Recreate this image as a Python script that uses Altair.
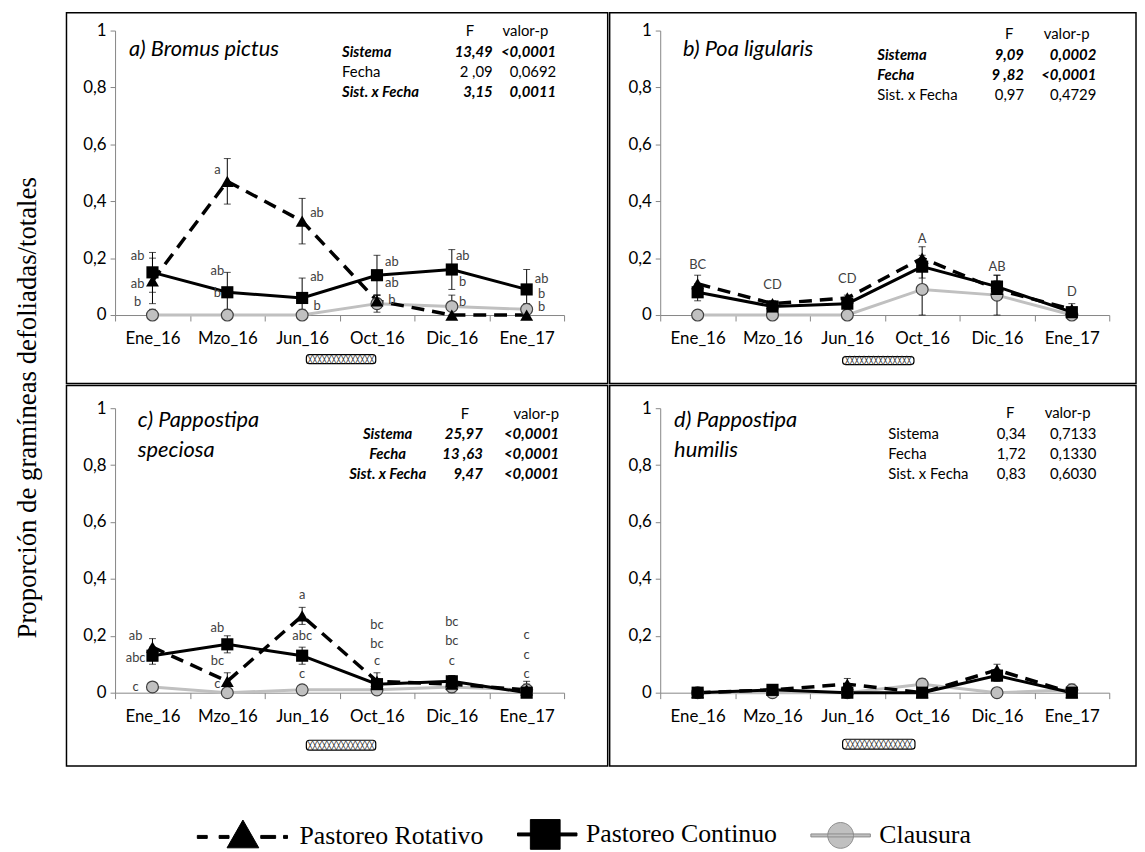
import altair as alt
import pandas as pd

CATS = ["Ene_16", "Mzo_16", "Jun_16", "Oct_16", "Dic_16", "Ene_17"]
SERIES = ["Pastoreo Rotativo", "Pastoreo Continuo", "Clausura"]
Y_TITLE = "Proporción de gramíneas defoliadas/totales"
STAT_ROWS = ["Sistema", "Fecha", "Sist. x Fecha"]

# ---- panel a) Bromus pictus
A_TITLE = ["a) Bromus pictus"]
A_ROT = [0.12, 0.47, 0.33, 0.05, 0.00, 0.00]
A_ROT_ERR = [0.08, 0.08, 0.08, 0.02, 0.00, 0.00]
A_CONT = [0.15, 0.08, 0.06, 0.14, 0.16, 0.09]
A_CONT_ERR = [0.07, 0.07, 0.07, 0.07, 0.07, 0.07]
A_CLAU = [0.00, 0.00, 0.00, 0.04, 0.03, 0.02]
A_CLAU_ERR = [0.02, 0.02, 0.02, 0.03, 0.04, 0.02]
A_F = ["13,49", "2 ,09", "3,15"]
A_P = ["<0,0001", "0,0692", "0,0011"]
A_BOLD = [True, False, True]
A_LET_FECHA = ["Ene_16"] * 3 + ["Mzo_16"] * 3 + ["Jun_16"] * 3 + ["Oct_16"] * 3 + ["Dic_16"] * 3 + ["Ene_17"] * 3
A_LET_Y = [0.207, 0.108, 0.044, 0.508, 0.155, 0.079, 0.36, 0.135, 0.03,
           0.186, 0.114, 0.051, 0.207, 0.117, 0.044, 0.126, 0.075, 0.027]
A_LET_TXT = ["ab", "ab", "b", "a", "ab", "b", "ab", "ab", "b",
             "ab", "ab", "b", "ab", "b", "b", "ab", "b", "b"]
A_LET_SIDE = ["l"] * 3 + ["m"] * 3 + ["r"] * 3 + ["r"] * 3 + ["r2"] * 3 + ["r"] * 3

# ---- panel b) Poa ligularis
B_TITLE = ["b) Poa ligularis"]
B_ROT = [0.11, 0.04, 0.06, 0.20, 0.09, 0.02]
B_ROT_ERR = [0.03, 0.01, 0.01, 0.04, 0.03, 0.02]
B_CONT = [0.08, 0.03, 0.04, 0.17, 0.10, 0.01]
B_CONT_ERR = [0.03, 0.01, 0.02, 0.04, 0.04, 0.01]
B_CLAU = [0.00, 0.00, 0.00, 0.09, 0.07, 0.00]
B_CLAU_ERR = [0.00, 0.00, 0.00, 0.09, 0.07, 0.00]
B_F = ["9,09", "9 ,82", "0,97"]
B_P = ["0,0002", "<0,0001", "0,4729"]
B_BOLD = [True, True, False]
B_LET_FECHA = CATS
B_LET_Y = [0.176, 0.106, 0.126, 0.266, 0.168, 0.08]
B_LET_TXT = ["BC", "CD", "CD", "A", "AB", "D"]
B_LET_SIDE = ["c"] * 6

# ---- panel c) Pappostipa speciosa
C_TITLE = ["c) Pappostipa", "speciosa"]
C_ROT = [0.16, 0.04, 0.27, 0.04, 0.03, 0.01]
C_ROT_ERR = [0.03, 0.03, 0.03, 0.03, 0.03, 0.02]
C_CONT = [0.13, 0.17, 0.13, 0.03, 0.04, 0.00]
C_CONT_ERR = [0.03, 0.03, 0.03, 0.02, 0.02, 0.01]
C_CLAU = [0.02, 0.00, 0.01, 0.01, 0.02, 0.01]
C_CLAU_ERR = [0.01, 0.00, 0.01, 0.01, 0.01, 0.03]
C_F = ["25,97", "13 ,63", "9,47"]
C_P = ["<0,0001", "<0,0001", "<0,0001"]
C_BOLD = [True, True, True]
C_LET_FECHA = A_LET_FECHA
C_LET_Y = [0.20, 0.121, 0.021, 0.229, 0.111, 0.029, 0.344, 0.198, 0.064,
           0.237, 0.171, 0.11, 0.249, 0.183, 0.11, 0.203, 0.133, 0.067]
C_LET_TXT = ["ab", "abc", "c", "ab", "bc", "c", "a", "abc", "c",
             "bc", "bc", "c", "bc", "bc", "c", "c", "c", "c"]
C_LET_SIDE = ["l2"] * 3 + ["m"] * 3 + ["c"] * 12

# ---- panel d) Pappostipa humilis
D_TITLE = ["d) Pappostipa", "humilis"]
D_ROT = [0.00, 0.01, 0.03, 0.00, 0.08, 0.00]
D_ROT_ERR = [0.01, 0.01, 0.02, 0.00, 0.02, 0.01]
D_CONT = [0.00, 0.01, 0.00, 0.00, 0.06, 0.00]
D_CONT_ERR = [0.01, 0.01, 0.00, 0.00, 0.02, 0.00]
D_CLAU = [0.00, 0.00, 0.00, 0.03, 0.00, 0.01]
D_CLAU_ERR = [0.01, 0.01, 0.00, 0.02, 0.00, 0.02]
D_F = ["0,34", "1,72", "0,83"]
D_P = ["0,7133", "0,1330", "0,6030"]
D_BOLD = [False, False, False]

# ---------------- styles / layout (not data) ----------------
PW, PH = 453, 287
SIDE_DX = {"l": -15, "l2": -17, "m": -10, "r": 15, "r2": 11, "c": 0}
GEOM = {
    "a": dict(frame=(-49, 497, -18, 356), title=(14, 26), lab=229, lab_align="left",
              fx=381, px=445, hf=358, hp=414, hy=1, ry=22, box=(193, 263, 327, 336)),
    "b": dict(frame=(-51, 480, -18, 356), title=(23, 26), lab=219, lab_align="left",
              fx=367, px=440, hf=352, hp=410, hy=4, ry=25, box=(184, 256, 329, 337)),
    "c": dict(frame=(-49, 497, -23, 361), title=(23, 19), lab=275, lab_align="center",
              fx=371, px=448, hf=353, hp=425, hy=6, ry=26, box=(193, 263, 335, 345)),
    "d": dict(frame=(-51, 480, -23, 361), title=(14, 19), lab=230, lab_align="left",
              fx=369, px=440, hf=353, hp=411, hy=5, ry=26, box=(184, 257, 334, 344)),
}
LEG_PATHS = [
    "M-9.2,-0.1H-7.2V0.5H-9.2Z M-4.8,-0.1H-2.8V0.5H-4.8Z M0,-3.2L3.2,2.4H-3.2Z "
    "M3.6,-0.1H6.6V0.5H3.6Z M8.2,-0.1H9V0.5H8.2Z",
    "M-2.4,-0.3H9.6V0.3H-2.4Z M0.2,-3H6.2V3H0.2Z",
    "M-2.4,-0.3H9.6V0.3H-2.4Z M6.2,0A2.6,2.6 0 1,1 1,0A2.6,2.6 0 1,1 6.2,0Z",
]

ONE = alt.Data(values=[{"k": 1}])
XS = alt.Scale(type="band", domain=CATS, paddingInner=0, paddingOuter=0)
YS = alt.Scale(domain=[0, 1], nice=False)
X_AX = alt.Axis(title=None, labelAngle=0, tickBand="extent", grid=False,
                domainColor="#868686", tickColor="#868686", tickSize=6,
                labelFont="Lato", labelFontSize=17, labelColor="black", labelPadding=10)
Y_AX = alt.Axis(title=None, values=[0, 0.2, 0.4, 0.6, 0.8, 1], grid=False,
                labelExpr="replace(format(datum.value, '~g'), '.', ',')",
                domainColor="#868686", tickColor="#868686", tickSize=5,
                labelFont="Lato", labelFontSize=17, labelColor="black", labelPadding=4)
X = alt.X("fecha:N", scale=XS, axis=X_AX, sort=CATS)


def Y(field):
    return alt.Y(field, scale=YS, axis=Y_AX)


def txt(text, x, y, align="left", size=15, bold=False, italic=False, font="Lato",
        baseline="middle", color="black", line_height=None):
    kw = dict(text=text, align=align, baseline=baseline, font=font, fontSize=size, color=color)
    if bold:
        kw["fontWeight"] = "bold"
    if italic:
        kw["fontStyle"] = "italic"
    if line_height:
        kw["lineHeight"] = line_height
    return alt.Chart(ONE).mark_text(**kw).encode(x=alt.value(x), y=alt.value(y))


def panel(key, vals, errs, let, f_vals, p_vals, bold, title, legend=False):
    g = GEOM[key]
    rows = []
    for s, v, e in zip(SERIES, vals, errs):
        for i, c in enumerate(CATS):
            rows.append(dict(fecha=c, idx=i, serie=s, val=v[i], err=e[i],
                             lo=max(v[i] - e[i], 0.0), hi=v[i] + e[i]))
    df = pd.DataFrame(rows)
    layers = []
    x0, x1, y0, y1 = g["frame"]
    layers.append(alt.Chart(ONE).mark_rect(filled=False, stroke="black", strokeWidth=1.5).encode(
        x=alt.value(x0), x2=alt.value(x1), y=alt.value(y0), y2=alt.value(y1)))
    bx0, bx1, by0, by1 = g["box"]
    layers.append(alt.Chart(ONE).mark_rect(fill="white", stroke="black", strokeWidth=1.2,
                                           cornerRadius=3).encode(
        x=alt.value(bx0), x2=alt.value(bx1), y=alt.value(by0), y2=alt.value(by1)))
    layers.append(txt("╳" * 14, (bx0 + bx1) / 2, (by0 + by1) / 2 + 0.5, align="center",
                      size=8, font="DejaVu Sans Mono", color="#222"))

    eb = alt.Chart(df).transform_filter("datum.err > 0")
    layers.append(eb.mark_rule(color="black", strokeWidth=1).encode(x=X, y=Y("lo:Q"), y2="hi:Q"))
    layers.append(eb.mark_tick(color="black", thickness=1, size=7).encode(x=X, y=Y("hi:Q")))
    layers.append(eb.mark_tick(color="black", thickness=1, size=7).encode(x=X, y=Y("lo:Q")))

    line_styles = {
        "Clausura": dict(color="#c0c0c0", strokeWidth=3),
        "Pastoreo Continuo": dict(color="black", strokeWidth=3),
        "Pastoreo Rotativo": dict(color="black", strokeWidth=3.5, strokeDash=[13, 8]),
    }
    for s in ["Clausura", "Pastoreo Continuo", "Pastoreo Rotativo"]:
        layers.append(alt.Chart(df).transform_filter(alt.datum.serie == s)
                      .mark_line(**line_styles[s])
                      .encode(x=X, y=Y("val:Q"), order="idx:Q"))
    point_styles = {
        "Clausura": dict(shape="circle", filled=True, fill="#c0c0c0", stroke="#404040",
                         strokeWidth=1.2, size=144, opacity=1),
        "Pastoreo Continuo": dict(shape="square", filled=True, color="black", size=150, opacity=1),
        "Pastoreo Rotativo": dict(shape="triangle-up", filled=True, color="black", size=170, opacity=1),
    }
    for s in ["Clausura", "Pastoreo Continuo", "Pastoreo Rotativo"]:
        layers.append(alt.Chart(df).transform_filter(alt.datum.serie == s)
                      .mark_point(**point_styles[s])
                      .encode(x=X, y=Y("val:Q")))

    lf, ly, lt, ls = let
    ldf = pd.DataFrame(dict(fecha=lf, ly=ly, txt=lt, side=ls))
    for side, dx in SIDE_DX.items():
        if side in ls:
            layers.append(alt.Chart(ldf).transform_filter(alt.datum.side == side)
                          .mark_text(font="Lato", fontSize=13, color="#404040", dx=dx, baseline="middle")
                          .encode(x=X, y=Y("ly:Q"), text="txt:N"))

    # stats table
    layers.append(txt("F", g["hf"], g["hy"], align="center"))
    layers.append(txt("valor-p", g["hp"], g["hy"], align="center"))
    for i, (r, fv, pv, b) in enumerate(zip(STAT_ROWS, f_vals, p_vals, bold)):
        yy = g["ry"] + 20 * i
        layers.append(txt(r, g["lab"], yy, align=g["lab_align"], bold=b, italic=b))
        layers.append(txt(fv, g["fx"], yy, align="right", bold=b, italic=b))
        layers.append(txt(pv, g["px"], yy, align="right", bold=b, italic=b))

    tx, ty = g["title"]
    layers.append(txt(title if len(title) > 1 else title[0], tx, ty, size=22, italic=True,
                      baseline="alphabetic", line_height=30))

    if legend:
        leg = alt.Legend(title=None, orient="none", legendX=116, legendY=798, direction="horizontal",
                         symbolSize=100, labelFont="Liberation Serif", labelFontSize=26,
                         labelColor="black", labelOffset=44, columnPadding=32, labelLimit=400,
                         symbolStrokeWidth=1)
        ldf2 = pd.DataFrame(dict(serie=SERIES))
        layers.append(alt.Chart(ldf2).transform_filter("false").mark_point(filled=True, opacity=1).encode(
            shape=alt.Shape("serie:N", scale=alt.Scale(domain=SERIES, range=LEG_PATHS), legend=leg),
            fill=alt.Fill("serie:N", scale=alt.Scale(domain=SERIES, range=["black", "black", "#c0c0c0"]), legend=leg),
            stroke=alt.Stroke("serie:N", scale=alt.Scale(domain=SERIES, range=["black", "black", "#8c8c8c"]), legend=leg),
        ))
    return alt.layer(*layers).properties(width=PW, height=PH)


pa = panel("a", (A_ROT, A_CONT, A_CLAU), (A_ROT_ERR, A_CONT_ERR, A_CLAU_ERR),
           (A_LET_FECHA, A_LET_Y, A_LET_TXT, A_LET_SIDE), A_F, A_P, A_BOLD, A_TITLE, legend=True)
pb = panel("b", (B_ROT, B_CONT, B_CLAU), (B_ROT_ERR, B_CONT_ERR, B_CLAU_ERR),
           (B_LET_FECHA, B_LET_Y, B_LET_TXT, B_LET_SIDE), B_F, B_P, B_BOLD, B_TITLE)
pc = panel("c", (C_ROT, C_CONT, C_CLAU), (C_ROT_ERR, C_CONT_ERR, C_CLAU_ERR),
           (C_LET_FECHA, C_LET_Y, C_LET_TXT, C_LET_SIDE), C_F, C_P, C_BOLD, C_TITLE)
pd_ = panel("d", (D_ROT, D_CONT, D_CLAU), (D_ROT_ERR, D_CONT_ERR, D_CLAU_ERR),
            ([], [], [], []), D_F, D_P, D_BOLD, D_TITLE)

chart = alt.vconcat(
    alt.hconcat(pa, pb, spacing=0),
    alt.hconcat(pc, pd_, spacing=0),
    spacing=0,
    title=alt.TitleParams(Y_TITLE, orient="left", anchor="middle", font="Liberation Serif",
                          fontSize=27, fontWeight="normal", color="black", offset=24, dx=24),
).properties(
    padding={"left": 6, "top": 0, "right": 0, "bottom": 0}
).configure_view(strokeWidth=0)

chart.save("out.html", embed_options={"renderer": "svg", "actions": False})
